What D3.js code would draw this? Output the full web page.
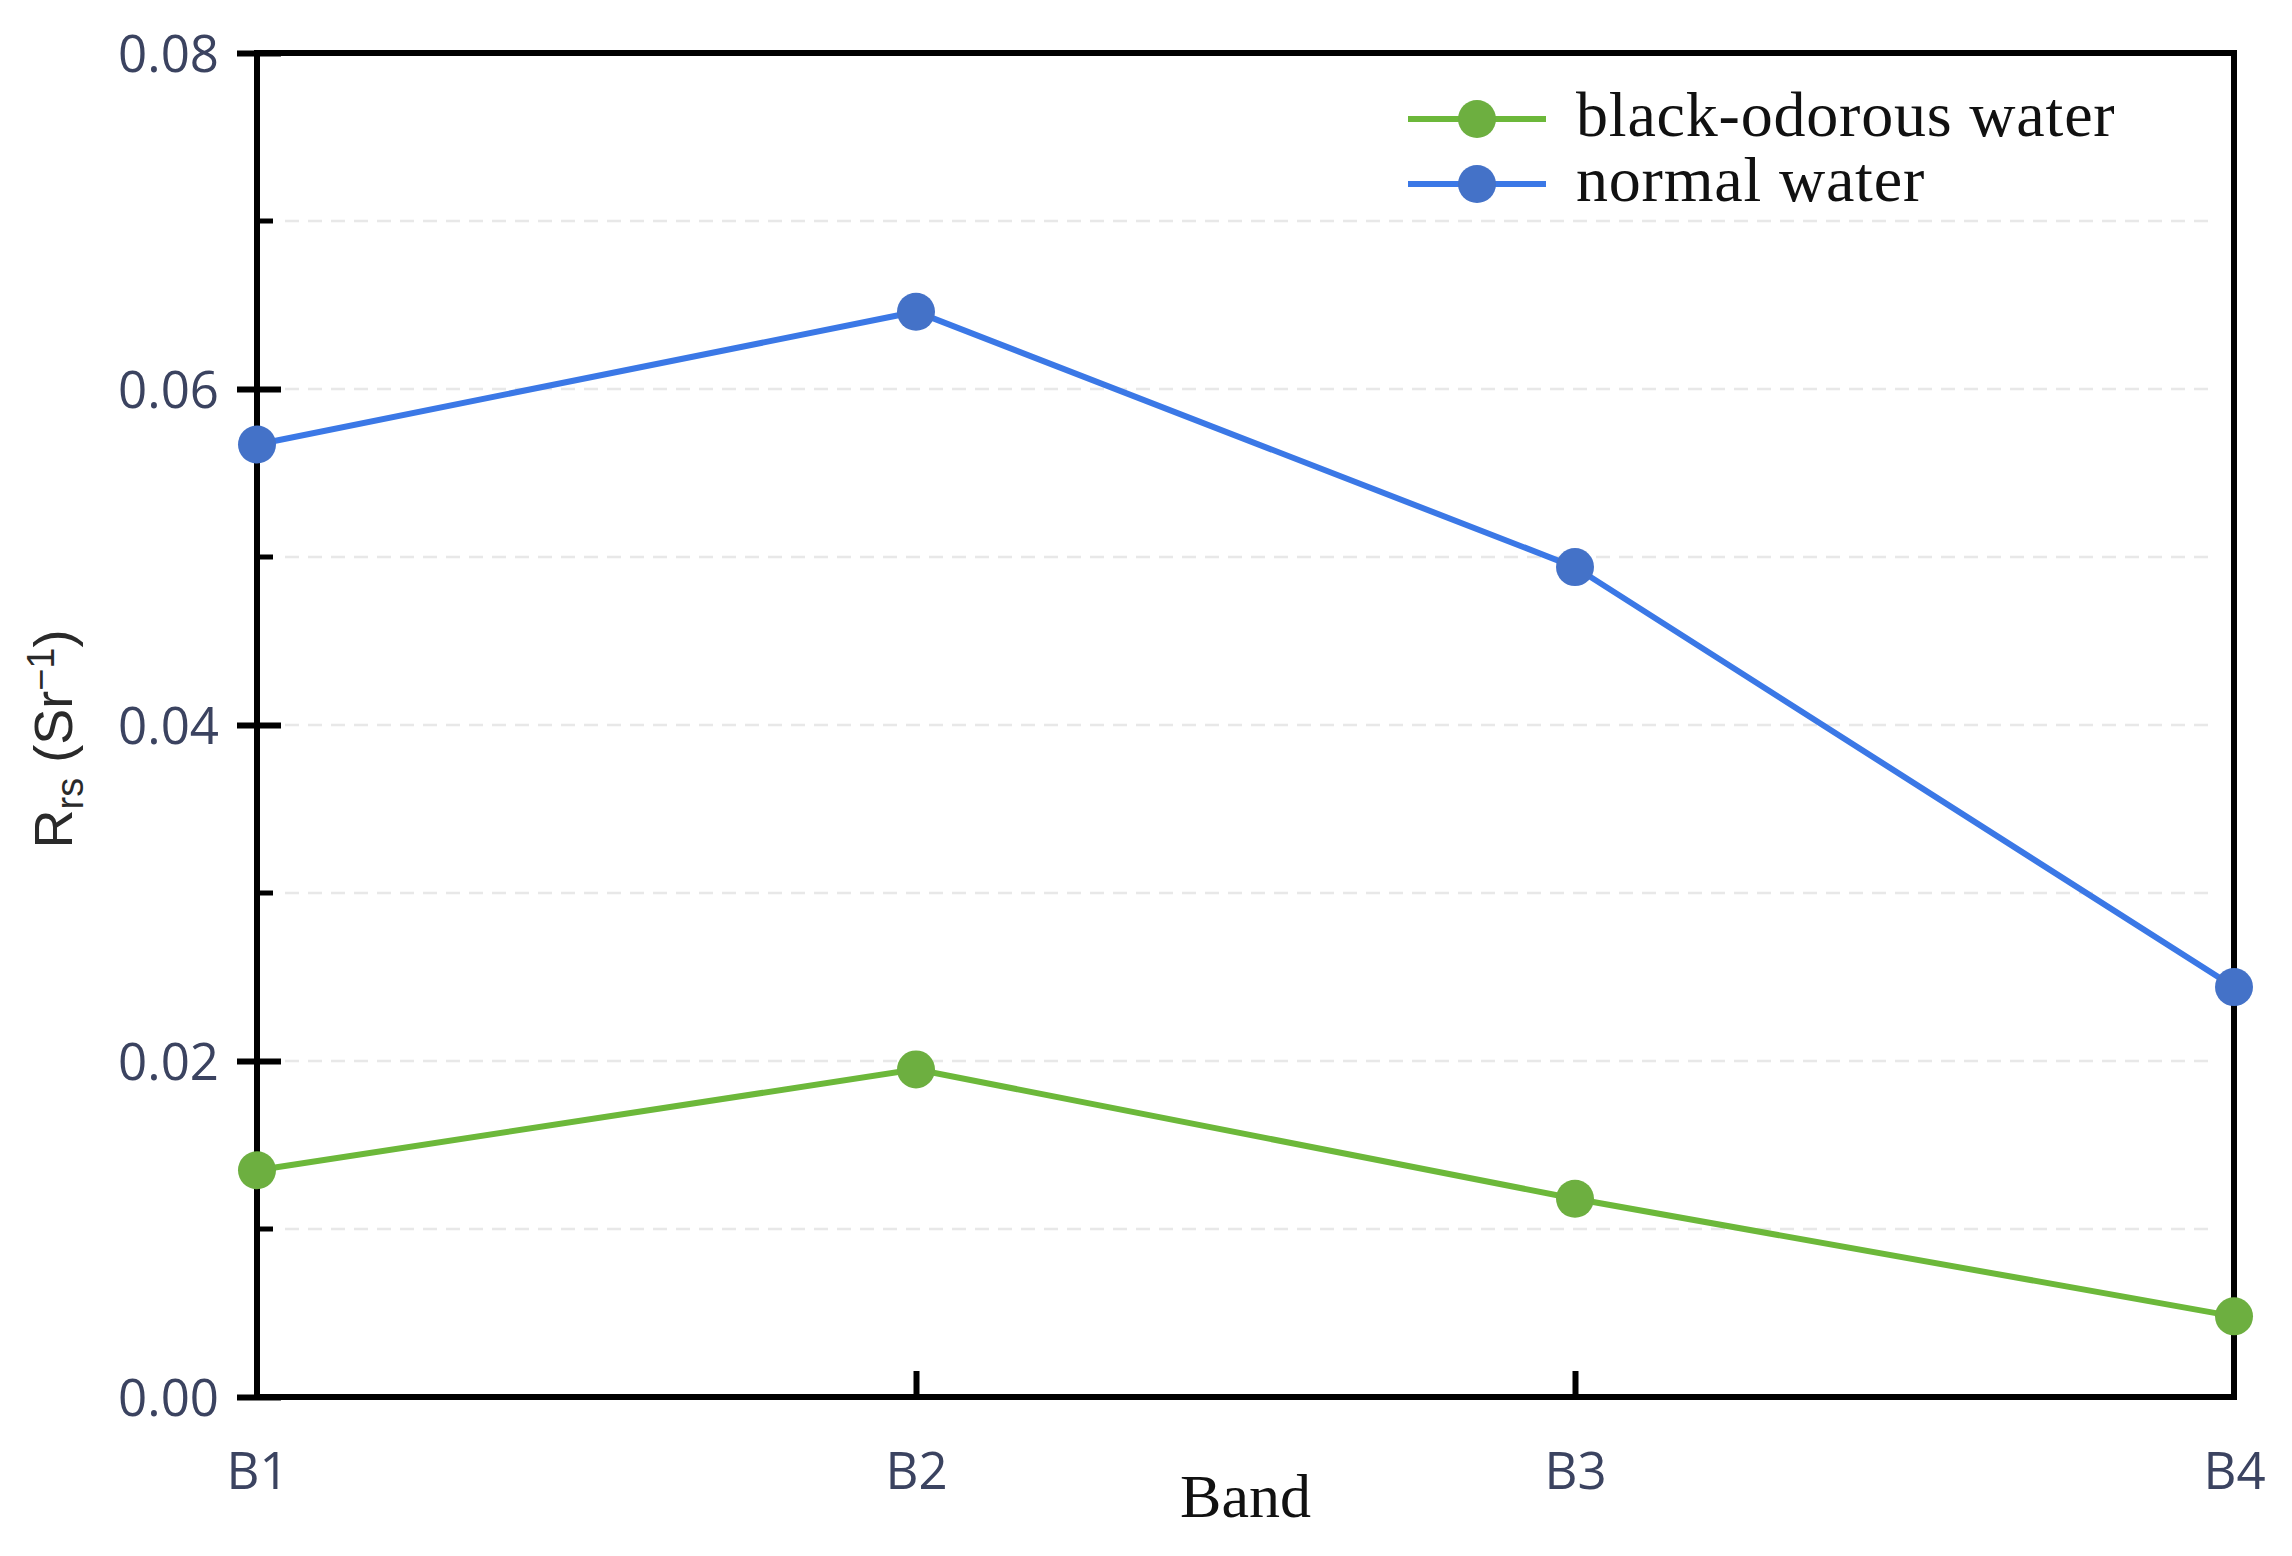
<!DOCTYPE html>
<html>
<head>
<meta charset="utf-8">
<script src="https://cdn.jsdelivr.net/npm/d3@7"></script>
<style>
  html, body { margin: 0; padding: 0; background: #fff; }
  svg { display: block; }
</style>
</head>
<body>
<svg id="chart" width="2292" height="1556"></svg>
<script>
// ---- data ----
const bands = ["B1", "B2", "B3", "B4"];
const blackOdorous = [0.0135, 0.0195, 0.0118, 0.0048];
const normalWater = [0.0567, 0.0646, 0.0494, 0.0244];
const seriesNames = ["black-odorous water", "normal water"];
const yMajorTicks = [0, 0.02, 0.04, 0.06, 0.08];
const yMinorTicks = [0.01, 0.03, 0.05, 0.07];
const yTickLabels = ["0.00", "0.02", "0.04", "0.06", "0.08"];

// ---- layout ----
const W = 2292, H = 1556;
const m = { left: 257, right: 2234, top: 53, bottom: 1397 };
const svg = d3.select("#chart");

const x = d3.scalePoint().domain(bands).range([m.left, m.right]);
const y = d3.scaleLinear().domain([0, 0.08]).range([m.bottom, m.top]);

const tickFont = "'Liberation Sans Narrow', 'Open Sans', 'Liberation Sans', sans-serif";
const tickColor = "#3b4360";

// grid lines (dashed, very light)
svg.append("g").selectAll("line")
  .data(yMajorTicks.slice(1, -1).concat(yMinorTicks))
  .join("line")
  .attr("x1", m.left + 28).attr("x2", m.right - 18)
  .attr("y1", d => y(d)).attr("y2", d => y(d))
  .attr("stroke", "#e8e8e8").attr("stroke-width", 2.5)
  .attr("stroke-dasharray", "14,9");

// frame
svg.append("rect")
  .attr("x", m.left).attr("y", m.top)
  .attr("width", m.right - m.left).attr("height", m.bottom - m.top)
  .attr("fill", "none").attr("stroke", "#000").attr("stroke-width", 6);

// y axis major ticks (crossing)
const yAxisMajor = d3.axisLeft(y).tickValues(yMajorTicks)
  .tickSizeInner(0).tickSizeOuter(0).tickFormat((d, i) => yTickLabels[i]);
const gy = svg.append("g").attr("transform", `translate(${m.left},0)`).call(yAxisMajor);
gy.select(".domain").remove();
gy.selectAll(".tick line").remove();
gy.selectAll(".tick text")
  .attr("x", -38).attr("dy", "0.36em")
  .attr("font-family", tickFont).attr("font-size", 51)
  .attr("fill", tickColor);
gy.selectAll(".tick").append("line")
  .attr("x1", -20).attr("x2", 24).attr("stroke", "#000").attr("stroke-width", 6);

// y minor ticks (inward)
svg.append("g").selectAll("line").data(yMinorTicks).join("line")
  .attr("x1", m.left).attr("x2", m.left + 16)
  .attr("y1", d => y(d)).attr("y2", d => y(d))
  .attr("stroke", "#000").attr("stroke-width", 5);

// x axis
const xAxis = d3.axisBottom(x).tickSizeInner(0).tickSizeOuter(0);
const gx = svg.append("g").attr("transform", `translate(0,${m.bottom})`).call(xAxis);
gx.select(".domain").remove();
gx.selectAll(".tick line").remove();
gx.selectAll(".tick text")
  .attr("y", 74).attr("dy", "0.36em")
  .attr("font-family", tickFont).attr("font-size", 51)
  .attr("fill", tickColor);
gx.selectAll(".tick").filter((d, i) => i > 0 && i < bands.length - 1)
  .append("line").attr("y1", 0).attr("y2", -26)
  .attr("stroke", "#000").attr("stroke-width", 6);

// axis titles
svg.append("text")
  .attr("x", (m.left + m.right) / 2).attr("y", 1517)
  .attr("text-anchor", "middle")
  .attr("font-family", "'Liberation Serif', 'DejaVu Serif', serif")
  .attr("font-size", 62).attr("fill", "#111")
  .text("Band");

const yt = svg.append("text")
  .attr("transform", `translate(72,${(m.top + m.bottom) / 2 + 14}) rotate(-90)`)
  .attr("text-anchor", "middle")
  .attr("font-family", "'Liberation Sans', 'Open Sans', sans-serif")
  .attr("font-size", 54).attr("fill", "#2a2a2a");
yt.append("tspan").text("R");
yt.append("tspan").attr("font-size", 38).attr("dy", 11).text("rs");
yt.append("tspan").attr("dy", -11).text(" (Sr");
yt.append("tspan").attr("font-size", 38).attr("dy", -18).text("−1");
yt.append("tspan").attr("dy", 18).text(")");

// series
const series = [
  { name: seriesNames[0], values: blackOdorous, line: "#6cb83a", marker: "#6daf40" },
  { name: seriesNames[1], values: normalWater, line: "#3b78e6", marker: "#4472c8" }
];
const lineGen = d3.line().x((d, i) => x(bands[i])).y(d => y(d));

series.forEach(s => {
  svg.append("path").datum(s.values)
    .attr("d", lineGen).attr("fill", "none")
    .attr("stroke", s.line).attr("stroke-width", 6);
  svg.append("g").selectAll("circle").data(s.values).join("circle")
    .attr("cx", (d, i) => x(bands[i])).attr("cy", d => y(d))
    .attr("r", 19).attr("fill", s.marker);
});

// legend
const legend = svg.append("g");
series.forEach((s, i) => {
  const ly = 119 + i * 65;
  legend.append("line").attr("x1", 1408).attr("x2", 1546)
    .attr("y1", ly).attr("y2", ly)
    .attr("stroke", s.line).attr("stroke-width", 6);
  legend.append("circle").attr("cx", 1477).attr("cy", ly).attr("r", 19)
    .attr("fill", s.marker);
  legend.append("text").attr("x", 1576).attr("y", ly + 17)
    .attr("font-family", "'Liberation Serif', 'DejaVu Serif', serif")
    .attr("font-size", 64).attr("letter-spacing", 0.8).attr("fill", "#111")
    .text(s.name);
});
</script>
</body>
</html>
